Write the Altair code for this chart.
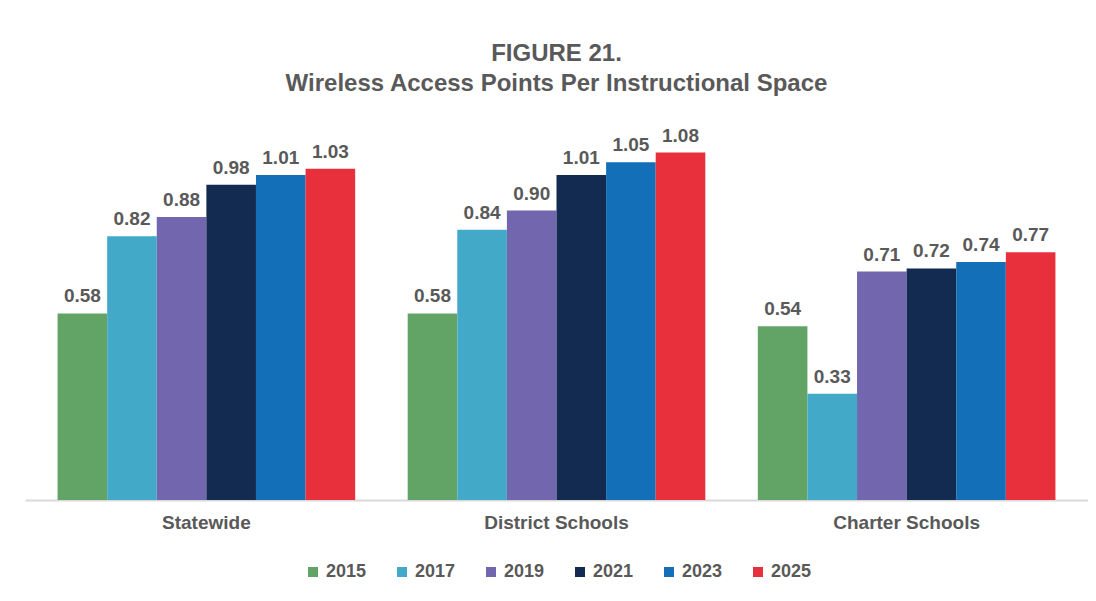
import altair as alt
import pandas as pd

categories = ["Statewide", "District Schools", "Charter Schools"]
years = ["2015", "2017", "2019", "2021", "2023", "2025"]
statewide = [0.58, 0.82, 0.88, 0.98, 1.01, 1.03]
district = [0.58, 0.84, 0.90, 1.01, 1.05, 1.08]
charter = [0.54, 0.33, 0.71, 0.72, 0.74, 0.77]
colors = ["#62A466", "#42AAC8", "#7267AE", "#132B50", "#126FB8", "#E8303C"]

rows = []
for cat, vals in zip(categories, [statewide, district, charter]):
    for y, v in zip(years, vals):
        rows.append({"Group": cat, "Year": y, "Value": v})
df = pd.DataFrame(rows)

FONT = "Liberation Sans"
GRAY = "#595959"

x = alt.X("Group:N", sort=categories,
          scale=alt.Scale(paddingInner=0.15, paddingOuter=0.093),
          axis=alt.Axis(title=None, labelAngle=0, ticks=False, domainColor="#d9d9d9",
                        domainWidth=2, labelFont=FONT, labelFontSize=19,
                        labelFontWeight="bold", labelColor=GRAY, labelPadding=13))
xo = alt.XOffset("Year:N", sort=years, scale=alt.Scale(paddingInner=0, paddingOuter=0))
y = alt.Y("Value:Q", scale=alt.Scale(domain=[0, 1.2]), axis=None)

bars = alt.Chart(df).mark_bar().encode(
    x=x, xOffset=xo, y=y,
    color=alt.Color("Year:N", sort=years,
                    scale=alt.Scale(domain=years, range=colors),
                    legend=alt.Legend(title=None, orient="none", direction="horizontal",
                                      legendX=279, legendY=449, symbolType="square",
                                      symbolSize=100, symbolStrokeWidth=0,
                                      labelFont=FONT, labelFontSize=18,
                                      labelFontWeight="bold", labelColor=GRAY,
                                      labelOffset=4, columnPadding=26)),
)

labels = alt.Chart(df).mark_text(
    baseline="alphabetic", dy=-11, font=FONT, fontSize=19, fontWeight="bold", color=GRAY
).encode(x=x, xOffset=xo, y=y, text=alt.Text("Value:Q", format=".2f"))

chart = (bars + labels).properties(
    width=1063, height=386,
    background="white",
    title=alt.TitleParams(["FIGURE 21.", "Wireless Access Points Per Instructional Space"],
                          font=FONT, fontSize=24, fontWeight="bold", color=GRAY,
                          anchor="middle", offset=18, lineHeight=30),
    autosize=alt.AutoSizeParams(type="none"),
    padding={"left": 17, "top": 106, "right": 0, "bottom": 93},
).configure_view(stroke=None)

chart.save("out.html", embed_options={"renderer": "svg", "actions": False})
